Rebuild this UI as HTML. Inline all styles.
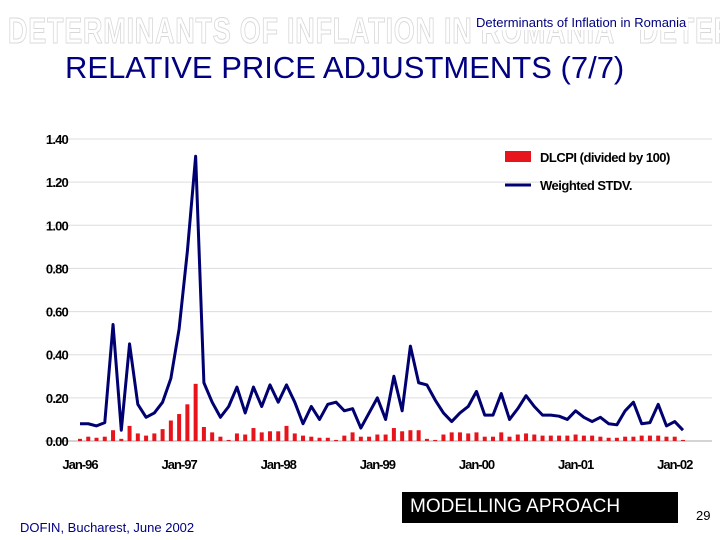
<!DOCTYPE html>
<html><head><meta charset="utf-8"><style>
body{margin:0;width:720px;height:540px;background:#fff;overflow:hidden;font-family:"Liberation Sans",sans-serif;position:relative}
.wmbox{position:absolute;left:0;top:0;width:720px;height:60px;overflow:hidden}
.wm{position:absolute;top:10px;left:8px;font-size:36px;font-weight:bold;color:#fff;-webkit-text-stroke:1px #d8d8d8;letter-spacing:1px;white-space:nowrap;transform:scaleX(0.75);transform-origin:left}
</style></head><body>
<div class="wmbox"><div class="wm">DETERMINANTS OF INFLATION IN ROMANIA &nbsp; DETERMINANTS</div></div>
<div style="position:absolute;left:474px;top:15px;font-size:13px;color:#000080;background:#fff;padding:0 2px">Determinants of Inflation in Romania</div>
<div style="position:absolute;left:65px;top:50px;font-size:31px;color:#000080">RELATIVE PRICE ADJUSTMENTS (7/7)</div>
<svg id="chart" width="720" height="540" style="position:absolute;left:0;top:0">
<g id="grid"></g><g id="bars"></g><g id="lines"></g><g id="labels"></g>
<rect x="505" y="151" width="26" height="11" fill="#e8141b"/>
<text x="540" y="162" font-size="13" font-weight="bold" font-family="Liberation Sans" letter-spacing="-0.5">DLCPI (divided by 100)</text>
<line x1="505" y1="185" x2="531" y2="185" stroke="#000070" stroke-width="3"/>
<text x="540" y="190" font-size="13" font-weight="bold" font-family="Liberation Sans" letter-spacing="-0.5">Weighted STDV.</text>
</svg>
<div style="position:absolute;left:20px;top:520px;font-size:13px;color:#000080">DOFIN, Bucharest, June 2002</div>
<div style="position:absolute;left:402px;top:492px;width:276px;height:31px;background:#000;color:#fff;font-size:19px;line-height:30px;padding-left:8px;box-sizing:border-box">MODELLING APROACH</div>
<div style="position:absolute;left:696px;top:508px;font-size:13px">29</div>
<script>
const yTicks=[0,0.2,0.4,0.6,0.8,1.0,1.2,1.4];
const xLabels=["Jan-96","Jan-97","Jan-98","Jan-99","Jan-00","Jan-01","Jan-02"];
const stdv=[0.08,0.08,0.07,0.085,0.54,0.05,0.45,0.17,0.11,0.13,0.18,0.29,
0.52,0.88,1.32,0.27,0.18,0.11,0.16,0.25,0.13,0.25,0.16,0.26,
0.18,0.26,0.18,0.08,0.16,0.10,0.17,0.18,0.14,0.15,0.06,0.13,
0.20,0.10,0.30,0.14,0.44,0.27,0.26,0.19,0.13,0.09,0.13,0.16,
0.23,0.12,0.12,0.22,0.10,0.15,0.21,0.16,0.12,0.12,0.115,0.10,
0.14,0.11,0.09,0.11,0.08,0.075,0.14,0.18,0.08,0.085,0.17,0.07,
0.09,0.05];
const dlcpi=[0.01,0.02,0.015,0.02,0.05,0.01,0.07,0.035,0.025,0.035,0.055,0.095,
0.125,0.17,0.265,0.065,0.04,0.02,0.005,0.035,0.03,0.06,0.04,0.045,
0.045,0.07,0.035,0.025,0.02,0.015,0.015,0.005,0.025,0.04,0.02,0.02,
0.03,0.03,0.06,0.045,0.05,0.05,0.01,0.005,0.03,0.04,0.04,0.035,
0.04,0.02,0.02,0.04,0.02,0.03,0.035,0.03,0.025,0.025,0.025,0.025,
0.03,0.025,0.025,0.02,0.015,0.015,0.02,0.02,0.025,0.025,0.025,0.02,
0.02,0.005];
const NS="http://www.w3.org/2000/svg";
const y=v=>441-v/1.4*302;
const x=i=>80+i*8.26;
function mk(t,a,p){const e=document.createElementNS(NS,t);for(const k in a)e.setAttribute(k,a[k]);document.getElementById(p).appendChild(e);return e;}
yTicks.forEach(v=>{
 const g=mk('line',{x1:45,x2:712,y1:y(v),y2:y(v),stroke:v===0?'#aaa':'#ddd','stroke-width':1},'grid');
 
 
 const t=mk('text',{x:68,y:y(v)+5,'text-anchor':'end','font-size':13,'font-weight':'bold','font-family':'Liberation Sans','letter-spacing':'-0.8'},'labels');
 t.textContent=v.toFixed(2);
 
 
});
xLabels.forEach((l,k)=>{
 const t=mk('text',{x:x(k*12),y:469,'text-anchor':'middle','font-size':13,'font-weight':'bold','font-family':'Liberation Sans','letter-spacing':'-1'},'labels');
 t.textContent=l;
 
 
});
dlcpi.forEach((v,i)=>{
 const b=mk('rect',{x:x(i)-2,y:y(v),width:4,height:441-y(v),fill:'#e8141b'},'bars');
 
 
});
const p=mk('polyline',{points:stdv.map((v,i)=>x(i)+','+y(v)).join(' '),fill:'none',stroke:'#000070','stroke-width':3,'stroke-linejoin':'round'},'lines');


</script>
</body></html>
